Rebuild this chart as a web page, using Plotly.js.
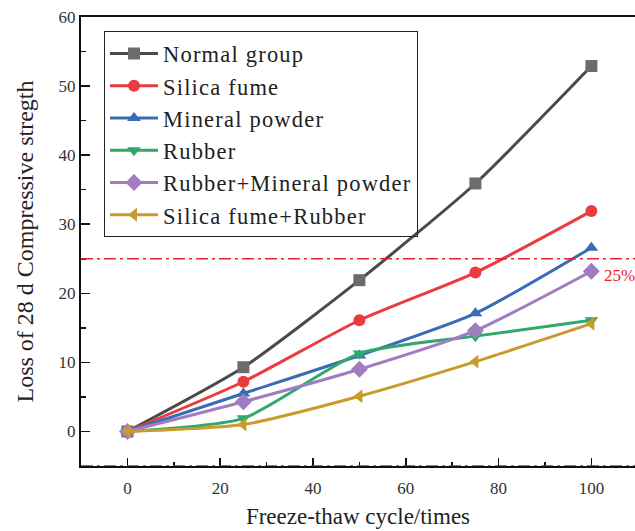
<!DOCTYPE html>
<html>
<head>
<meta charset="utf-8">
<script src="https://cdn.plot.ly/plotly-3.0.1.min.js"></script>
<style>html,body{margin:0;padding:0;background:#fff;}#chart{width:635px;height:531px;}
.legendtext{letter-spacing:1.2px;}</style>
</head>
<body>
<div id="chart"></div>
<script>
const cycles = [0, 25, 50, 75, 100];
const seriesNames = ["Normal group", "Silica fume", "Mineral powder", "Rubber", "Rubber+Mineral powder", "Silica fume+Rubber"];
const normalGroup = [0, 9.3, 21.9, 35.9, 52.9];
const silicaFume = [0, 7.2, 16.1, 23.0, 31.9];
const mineralPowder = [0, 5.5, 11.0, 17.1, 26.6];
const rubber = [0, 1.9, 11.3, 13.8, 16.1];
const rubberMineral = [0, 4.3, 9.0, 14.6, 23.2];
const silicaRubber = [0, 1.0, 5.1, 10.1, 15.6];
const thresholdValue = 25;
const thresholdLabel = "25%";

const values = [normalGroup, silicaFume, mineralPowder, rubber, rubberMineral, silicaRubber];
const lineColors = ["#4a4a4a", "#ec3b3f", "#3a6cb5", "#2fa86a", "#a07cc0", "#c99a2c"];
const markerColors = ["#6b6b70", "#ec3b3f", "#3a6cb5", "#2fa86a", "#a07cc0", "#c99a2c"];
const symbols = ["square", "circle", "triangle-up", "triangle-down", "diamond", "triangle-left"];

const serif = "Liberation Serif";

const traces = values.map((v, i) => ({
  x: cycles, y: v, name: seriesNames[i], type: "scatter", mode: "lines+markers",
  line: {color: lineColors[i], width: 3, shape: "spline", smoothing: 0.6},
  marker: {color: markerColors[i], symbol: symbols[i], size: i === 4 ? 13 : 12}
}));

const layout = {
  width: 635, height: 531,
  font: {family: serif},
  margin: {l: 81, r: 0, t: 17, b: 65},
  paper_bgcolor: "#fff", plot_bgcolor: "#fff",
  showlegend: true,
  legend: {
    x: 0.0415, y: 0.968, xanchor: "left", yanchor: "top",
    bordercolor: "#222", borderwidth: 1, bgcolor: "rgba(255,255,255,0)",
    font: {family: serif, size: 22.5, color: "#222"},
    itemwidth: 48, tracegroupgap: 0
  },
  xaxis: {
    range: [-10, 109.4], tickvals: [0, 20, 40, 60, 80, 100],
    showline: true, linecolor: "#111", linewidth: 2, mirror: true,
    ticks: "inside", ticklen: 8, tickwidth: 1.5, tickcolor: "#111",
    minor: {tickvals: [10, 30, 50, 70, 90], ticks: "inside", ticklen: 4, tickwidth: 1.5, tickcolor: "#111"},
    showgrid: false, zeroline: false,
    tickfont: {family: serif, size: 17, color: "#333"},
    ticklabelstandoff: 6,
    title: {text: "Freeze-thaw cycle/times", font: {family: serif, size: 23, color: "#222"}, standoff: 10}
  },
  yaxis: {
    range: [-5, 60], tickvals: [0, 10, 20, 30, 40, 50, 60],
    showline: true, linecolor: "#111", linewidth: 2, mirror: false,
    ticks: "inside", ticklen: 9, tickwidth: 1.5, tickcolor: "#111",
    minor: {tickvals: [5, 15, 25, 35, 45, 55], ticks: "inside", ticklen: 5, tickwidth: 1.5, tickcolor: "#111"},
    showgrid: false, zeroline: false,
    tickfont: {family: serif, size: 17, color: "#333"},
    ticklabelstandoff: 0,
    title: {text: "Loss of 28 d Compressive stregth", font: {family: serif, size: 24, color: "#222"}, standoff: 18}
  },
  shapes: [
    {type: "line", xref: "paper", x0: 0, x1: 1, yref: "y", y0: thresholdValue, y1: thresholdValue,
     line: {color: "#e5232a", width: 1.5, dash: "12px,4px,3px,4px"}},
    {type: "line", xref: "paper", x0: 0, x1: 1, yref: "y", y0: -5, y1: -5,
     line: {color: "#c0282d", width: 1.5, dash: "12px,4px,3px,4px"}}
  ],
  annotations: [
    {x: 102.3, y: 22.6, xref: "x", yref: "y", text: thresholdLabel, showarrow: false,
     xanchor: "left", yanchor: "middle", font: {family: serif, size: 17, color: "#e5232a"}}
  ]
};

Plotly.newPlot("chart", traces, layout, {displayModeBar: false, staticPlot: true});
</script>
</body>
</html>
